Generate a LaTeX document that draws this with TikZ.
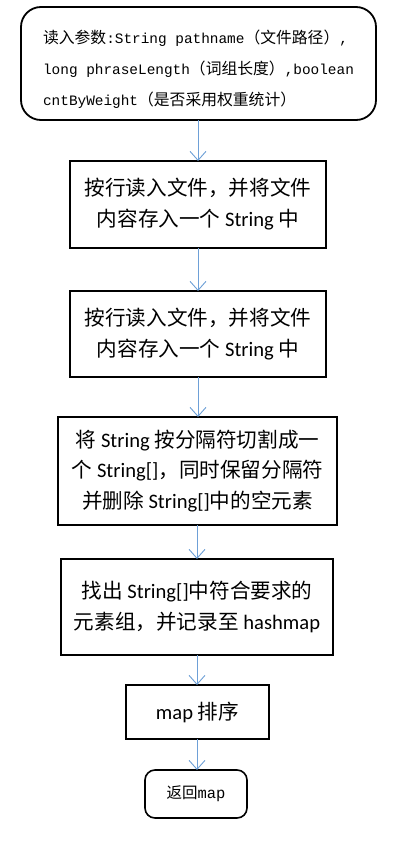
\documentclass[tikz,border=0pt]{standalone}
\usepackage{fontspec}
\setmainfont{Carlito}
\newfontfamily\cjk{Noto Sans CJK SC}
\newfontfamily\mono{Liberation Mono}
\usetikzlibrary{arrows.meta}
\definecolor{arrowblue}{RGB}{110,160,215}
\newcommand{\zh}[1]{{\cjk #1}}
\newcommand{\mn}[1]{{\mono\fontsize{14.4}{31}\selectfont #1}}
\begin{document}
\begin{tikzpicture}[x=1pt,y=-1pt,
  box/.style={draw=black, line width=1.8pt, inner sep=0pt, outer sep=0pt, align=center},
  rbox/.style={box, rounded corners=20pt},
  flow/.style={draw=arrowblue, line width=0.9pt, -{Straight Barb[length=9pt,width=16pt,line width=0.9pt]}}
]
\useasboundingbox (0,0) rectangle (400,843);
\fill[white] (0,0) rectangle (400,843);

\node[rbox, minimum width=355pt, minimum height=113pt, font=\fontsize{15.8}{31}\selectfont] (n1) at (198.5,63.5)
  {\raisebox{-5pt}[\height][\depth]{\begin{tabular}{@{}l@{}}
   \zh{读入参数}\mn{:String pathname}\zh{（文件路径）}\mn{,}\\
   \mn{long phraseLength}\zh{（词组长度）}\mn{,boolean}\\
   \mn{cntByWeight}\zh{（是否采用权重统计）}\end{tabular}}};

\node[box, minimum width=256pt, minimum height=87pt, font=\fontsize{20.6}{31}\selectfont] (n2) at (198,204.5)
  {\zh{按行读入文件，并将文件}\\ \zh{内容存入一个} String \zh{中}};

\node[box, minimum width=256pt, minimum height=86pt, font=\fontsize{20.6}{31}\selectfont] (n3) at (198,334)
  {\zh{按行读入文件，并将文件}\\ \zh{内容存入一个} String \zh{中}};

\node[box, minimum width=279pt, minimum height=108pt, font=\fontsize{20.6}{30.5}\selectfont] (n4) at (197.5,471)
  {\zh{将} String \zh{按分隔符切割成一}\\ \zh{个} String[]\zh{，同时保留分隔符}\\ \zh{并删除} String[]\zh{中的空元素}};

\node[box, minimum width=272pt, minimum height=96pt, font=\fontsize{20.6}{31}\selectfont] (n5) at (197,607)
  {\zh{找出} String[]\zh{中符合要求的}\\ \zh{元素组，并记录至} hashmap};

\node[box, minimum width=143pt, minimum height=54pt, font=\fontsize{20.6}{24}\selectfont] (n6) at (197.5,712)
  {map \zh{排序}};

\node[box, rounded corners=10pt, line width=1.6pt, minimum width=102pt, minimum height=48pt, font=\fontsize{15.5}{20}\selectfont] (n7) at (196,794)
  {\zh{返回}\mono{map}};

\draw[flow] (n1.south -| 198,0) -- (n2.north -| 198,0);
\draw[flow] (n2.south -| 198,0) -- (n3.north -| 198,0);
\draw[flow] (n3.south -| 198,0) -- (n4.north -| 198,0);
\draw[flow] (n4.south -| 197,0) -- (n5.north -| 197,0);
\draw[flow] (n5.south -| 197,0) -- (n6.north -| 197,0);
\draw[flow] (n6.south -| 197,0) -- (n7.north -| 197,0);
\end{tikzpicture}
\end{document}
